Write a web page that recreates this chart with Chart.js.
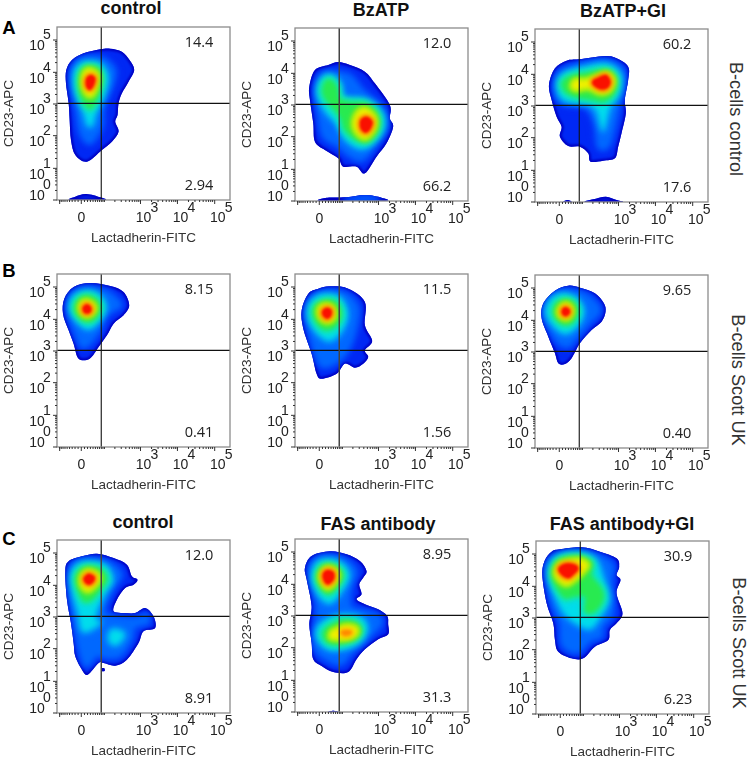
<!DOCTYPE html>
<html><head><meta charset="utf-8">
<script src="https://cdn.jsdelivr.net/npm/chart.js@4"></script>
<style>
html,body{margin:0;padding:0;background:#fff;overflow:hidden}
#page{position:relative;width:750px;height:758px;overflow:hidden;background:#fff}
canvas{position:absolute}
.t{position:absolute;white-space:nowrap;transform:translate(-50%,-50%);font-family:"Liberation Sans",Arial,sans-serif;line-height:1}
.h{font-weight:700;font-size:18px;color:#111}
.l{font-weight:700;font-size:18.5px;color:#000}
.s{font-size:18.2px;color:#333;transform:translate(-50%,-50%) rotate(90deg)}
</style></head><body><div id="page"></div>
<script>
// Axis values are display channels (0-520 on each axis).
const xTickMajor=[8,73,251,362,474];
const xTickLabels=["","0","10","10","10"];
const xTickExps=["","","3","4","5"];
const yTickMajor=[0,95,193,288,383,480];
const yTickExps=["0","1","2","3","4","5"];
const quadrantX=133, quadrantY=290;
const panelTitles=[["control",131,8],["BzATP",381,10],["BzATP+GI",623,11],["control",143,522],["FAS antibody",378,524],["FAS antibody+GI",622,524]];
const rowLetters=[["A",9,28],["B",9,271],["C",9,539]];
const rowLabels=[["B-cells control",736,119],["B-cells Scott UK",738,380],["B-cells Scott UK",739,643]];
const upperStats=["14.4","12.0","60.2","8.15","11.5","9.65","12.0","8.95","30.9"];
const lowerStats=["2.94","66.2","17.6","0.41","1.56","0.40","8.91","31.3","6.23"];
const frameLefts=[57,295,535,57,295,535,57,295,536];
const frameTops=[27,28,29,274,274,275,540,539,541];
const vLineColors=["#111","#444","#111","#111","#444","#111","#444","#444","#111"];
const levelColors=['#0028f4','#0068ff','#00dcec','#28ea50','#eef000','#ff8a00','#fa1000'];
const haloColors=['','#0044fa','#0098fa','#14e8a8','#98ee10','#ffc000','#ff7800'];
const levelBlur=[0.6,2.5,2.5,2.2,2,1.6,1.3];
const edgeColor='#0000c0';

// density contours: [level, [x,y, x,y, ...]]
const contoursA1=[
[0,[130,452,160,454,195,445,218,420,232,390,215,355,195,320,185,290,182,255,175,235,185,205,165,175,135,150,90,115,55,135,42,180,38,240,35,290,27,350,28,390,45,420,80,440]],
[0,[40,0,55,10,88,18,130,8,142,0]],
[1,[95,430,140,425,175,390,165,340,140,280,135,220,100,170,70,200,58,270,45,340,45,390,65,420]],
[2,[95,412,130,405,150,370,140,320,118,270,105,225,92,228,78,275,58,330,55,380,70,405]],
[3,[98,402,125,395,135,360,125,315,105,275,88,280,70,315,65,365,78,395]],
[4,[102,392,122,378,122,350,108,315,90,315,77,342,78,375,88,390]],
[6,[102,375,115,365,110,342,98,330,87,342,88,365]]];
const contoursA2=[
[0,[130,417,165,408,210,388,240,353,285,288,285,248,295,223,275,173,245,133,210,83,185,103,145,103,130,128,90,153,60,178,55,233,45,303,43,343,60,393,100,408]],
[0,[80,0,95,10,155,11,210,18,260,10,267,0]],
[1,[150,2,210,12,250,4]],
[1,[110,388,165,378,205,333,260,283,275,233,245,173,205,123,165,133,130,163,85,193,70,263,65,338,80,378]],
[2,[105,375,135,353,145,308,205,303,255,268,265,223,240,183,200,158,155,183,125,233,90,273,70,323,80,363]],
[3,[105,365,127,341,135,308,165,298,215,293,250,258,250,213,220,178,185,183,150,213,135,253,100,293,83,323,87,353]],
[4,[210,278,240,253,240,218,215,188,190,198,175,228,185,263]],
[6,[215,253,233,238,225,213,210,205,197,218,197,243]]];
const contoursA3=[
[0,[133,428,210,438,245,431,280,406,280,366,270,306,273,266,260,206,250,166,240,131,205,124,167,121,160,146,135,166,100,168,75,196,80,226,65,256,50,306,42,351,60,401,95,424]],
[0,[85,0,98,6,110,0]],
[0,[153,0,175,8,213,16,245,6,260,0]],
[1,[135,414,215,424,265,396,265,341,255,296,240,226,220,166,190,166,180,236,150,286,80,296,60,341,75,391]],
[2,[145,401,215,411,255,381,250,326,225,286,212,240,205,215,198,235,185,275,160,296,90,306,70,346,85,381]],
[3,[145,386,215,396,245,366,235,321,205,301,175,306,120,316,90,331,80,356,100,376]],
[4,[175,374,215,388,237,366,225,334,195,326,160,341,125,336,110,346,120,366,150,366]],
[6,[185,371,213,381,227,361,217,341,195,338,175,351,173,363]]];
const contoursB1=[
[0,[100,492,160,483,200,465,217,425,200,395,170,370,150,335,125,300,98,265,65,265,50,310,35,350,18,400,22,445,50,480]],
[1,[92,478,150,468,185,440,190,420,150,395,130,350,100,310,75,300,55,340,35,400,40,450,65,472]],
[2,[90,465,125,455,145,420,125,380,95,355,65,375,42,415,52,450]],
[3,[90,455,120,442,130,415,115,385,90,375,65,390,52,415,62,442]],
[4,[90,440,110,430,115,412,102,395,85,392,70,405,68,425,77,437]],
[6,[90,428,102,420,102,406,90,400,79,406,78,420]]];
const contoursB2=[
[0,[105,482,160,475,210,435,210,365,232,318,210,290,220,270,205,250,180,238,150,250,125,220,80,205,65,220,50,280,25,355,20,410,40,460,70,475]],
[1,[100,468,155,460,190,420,185,360,165,300,135,260,85,240,60,280,40,360,35,410,55,450]],
[2,[95,455,135,445,155,400,140,350,105,320,70,340,43,385,45,425,65,448]],
[3,[97,442,130,430,140,395,125,365,95,350,70,365,55,395,60,425]],
[4,[95,428,115,420,121,395,110,378,90,375,73,390,70,412,80,425]],
[6,[97,418,110,410,108,392,95,385,83,395,83,410]]];
const contoursB3=[
[0,[100,487,135,481,180,464,207,434,212,409,200,379,170,354,135,314,110,269,90,252,70,254,60,284,40,334,20,389,25,434,60,472]],
[1,[95,474,150,464,190,429,193,404,165,374,130,334,100,304,70,314,45,354,30,399,40,439,65,466]],
[2,[93,459,127,444,145,409,127,369,93,344,60,364,35,404,45,439,67,456]],
[3,[93,446,120,434,128,407,115,379,92,369,67,382,55,407,63,434]],
[4,[93,434,110,424,113,406,103,389,90,386,75,394,69,409,77,426]],
[6,[93,422,103,416,105,406,95,396,85,398,80,407,83,418]]];
const contoursC1=[
[0,[120,478,170,465,210,445,225,410,242,400,230,385,205,375,180,340,170,305,205,300,235,300,265,315,290,290,295,255,260,245,245,210,210,160,175,142,140,150,125,150,92,115,75,130,55,170,50,210,42,270,30,340,25,425,35,455,75,470]],
[0,[133,134,142,134,143,126,134,126]],
[1,[95,462,160,450,195,415,170,375,145,320,155,295,230,285,270,295,275,270,235,255,225,220,190,170,150,165,120,170,92,140,75,160,60,220,50,290,40,360,40,430,60,455]],
[2,[95,450,145,440,165,400,145,365,120,310,115,280,130,270,80,245,65,300,52,350,45,410,60,440]],
[2,[170,250,200,240,195,220,175,205,158,215,158,238]],
[3,[95,440,135,430,150,400,130,370,105,340,80,335,62,370,55,405,68,430]],
[4,[95,428,122,418,128,400,112,378,92,365,75,378,70,402,78,420]],
[6,[95,418,112,410,112,397,98,385,85,390,80,405]]];
const contoursC2=[
[0,[105,482,155,473,195,453,215,423,205,403,193,383,200,353,185,338,210,323,250,308,277,288,280,263,280,233,250,218,210,188,185,158,160,120,115,120,80,138,55,158,50,208,43,263,50,318,35,398,30,433,50,468]],
[0,[100,0,115,4,130,0]],
[1,[100,468,150,458,185,423,170,378,165,338,175,313,245,293,260,263,215,218,175,183,140,143,90,158,60,188,60,238,65,318,50,398,45,433,65,460]],
[2,[100,455,140,443,160,408,135,358,105,328,75,348,55,398,65,443]],
[2,[135,288,195,283,215,253,195,213,155,193,105,188,70,218,70,253,100,278]],
[3,[100,443,130,433,145,408,125,373,100,353,77,373,65,403,75,433]],
[3,[145,276,185,268,200,243,180,218,135,203,100,206,83,233,100,258]],
[4,[100,435,123,426,130,406,115,380,97,370,80,388,75,410,85,428]],
[4,[155,260,185,253,185,233,160,220,125,218,105,223,110,243,133,253]],
[6,[100,426,117,418,117,398,102,383,90,388,83,406,87,420]],
[5,[155,246,170,243,168,233,150,228,138,236,140,243]]];
const contoursC3=[
[0,[72,494,137,500,192,487,242,467,250,442,242,417,254,402,242,362,260,302,242,272,222,252,217,222,177,202,142,167,107,167,67,187,57,222,52,272,32,332,19,417,27,462,47,487]],
[1,[77,482,137,487,192,474,232,447,227,392,232,302,202,262,197,232,162,217,132,187,102,187,77,212,72,272,47,332,32,417,37,457]],
[2,[82,474,142,477,182,457,202,402,217,342,192,292,162,257,122,272,82,307,57,362,42,417,52,457]],
[3,[87,470,142,470,170,452,167,417,197,377,202,342,177,307,147,307,147,352,112,352,87,347,62,377,47,417,57,452]],
[4,[92,460,132,464,157,447,137,420,117,402,92,387,67,402,57,427,70,452]],
[6,[97,452,120,447,127,434,112,417,97,407,77,417,67,434,77,447]]];
const allContours=[contoursA1,contoursA2,contoursA3,contoursB1,contoursB2,contoursB3,contoursC1,contoursC2,contoursC3];

// minor axis ticks
const biex=v=>73+48.2*Math.asinh(v/50);
const xTickMinor=[];
[10,100,1000,10000].forEach(d=>{for(let k=1;k<10;k++){const v=k*d;if(v>10&&d===10&&k===1)continue;
  xTickMinor.push(biex(v));if(v<=90)xTickMinor.push(biex(-v));}});
const yTickMinor=[];
yTickMajor.slice(0,5).forEach((b,i)=>{for(let k=2;k<10;k++)yTickMinor.push(b+(yTickMajor[i+1]-b)*Math.log10(k));});

function smooth(ctx,p){const n=p.length;ctx.moveTo(p[0].x,p[0].y);
  for(let i=0;i<n;i++){const a=p[(i-1+n)%n],b=p[i],c=p[(i+1)%n],d=p[(i+2)%n];
    ctx.bezierCurveTo(b.x+(c.x-a.x)/6,b.y+(c.y-a.y)/6,c.x-(d.x-b.x)/6,c.y-(d.y-b.y)/6,c.x,c.y);}
  ctx.closePath();}

const densityPlugin={id:'density',beforeDatasetsDraw(chart){
  const ctx=chart.ctx,a=chart.chartArea;ctx.save();
  ctx.beginPath();ctx.rect(a.left,a.top,a.right-a.left,a.bottom-a.top);ctx.clip();
  const sets=chart.data.datasets.map((d,i)=>({d,meta:chart.getDatasetMeta(i)})).filter(o=>o.d.level!==undefined);
  ctx.filter='blur(0.5px)';ctx.fillStyle=levelColors[0];
  const clip=new Path2D();
  sets.filter(o=>o.d.level===0).forEach(o=>{smooth(clip,o.meta.data.map(e=>({x:e.x,y:e.y})));});
  ctx.fill(clip);
  ctx.clip(clip);
  ctx.lineJoin='round';
  ctx.filter='blur(1.2px)';ctx.strokeStyle=edgeColor;ctx.lineWidth=4;ctx.stroke(clip);
  sets.filter(o=>o.d.level>0).sort((u,v)=>u.d.level-v.d.level).forEach(o=>{
    const L=o.d.level,pts=o.meta.data.map(e=>({x:e.x,y:e.y}));
    ctx.filter='blur('+(levelBlur[L]+0.8)+'px)';
    ctx.fillStyle=haloColors[L];ctx.strokeStyle=haloColors[L];ctx.lineWidth=L>=5?4:6;
    ctx.beginPath();smooth(ctx,pts);ctx.fill();ctx.stroke();
    ctx.filter='blur('+levelBlur[L]+'px)';
    ctx.fillStyle=levelColors[L];
    ctx.beginPath();smooth(ctx,pts);ctx.fill();});
  ctx.restore();
}};
const axisPlugin={id:'axisDecor',afterDraw(chart){
  const ctx=chart.ctx,a=chart.chartArea,xs=chart.scales.x,ys=chart.scales.y,pi=chart.options.plugins.axisDecor;
  ctx.save();
  ctx.strokeStyle='#8c8c8c';ctx.lineWidth=1.3;ctx.strokeRect(a.left,a.top,a.right-a.left,a.bottom-a.top);
  ctx.strokeStyle='#333';ctx.lineWidth=1;
  const tick=(x1,y1,x2,y2)=>{ctx.beginPath();ctx.moveTo(x1,y1);ctx.lineTo(x2,y2);ctx.stroke();};
  xTickMinor.forEach(v=>{const x=xs.getPixelForValue(v);if(x>=a.left&&x<=a.right)tick(x,a.bottom,x,a.bottom+2);});
  xTickMajor.forEach(v=>{const x=xs.getPixelForValue(v);tick(x,a.bottom,x,a.bottom+4);});
  yTickMinor.forEach(v=>{const y=ys.getPixelForValue(v);tick(a.left,y,a.left-2,y);});
  yTickMajor.forEach(v=>{const y=ys.getPixelForValue(v);tick(a.left,y,a.left-4,y);});
  ctx.fillStyle='#222';ctx.font='14px "Liberation Sans",Arial,sans-serif';ctx.textAlign='center';ctx.textBaseline='middle';
  xTickMajor.forEach((v,i)=>{const x=xs.getPixelForValue(v);
    if(xTickLabels[i]==='0'){ctx.fillText('0',x,a.bottom+18);}
    else if(xTickLabels[i]){ctx.fillText(xTickLabels[i],x+3,a.bottom+18);ctx.fillText(xTickExps[i],x+14,a.bottom+8);}});
  yTickMajor.forEach((v,i)=>{const y=ys.getPixelForValue(v),dy=i===0?-10:0;
    ctx.fillText('10',a.left-20,y+6.5+dy);ctx.fillText(yTickExps[i],a.left-10,y-4.5+dy);});
  ctx.font='14.5px "Open Sans",sans-serif';
  ctx.fillText(pi.upper,xs.getPixelForValue(427),ys.getPixelForValue(470));
  ctx.fillText(pi.lower,xs.getPixelForValue(427),ys.getPixelForValue(43));
  ctx.restore();
}};
Chart.register(densityPlugin,axisPlugin);

const page=document.getElementById('page');
function addText(cls,row){const d=document.createElement('div');d.className='t '+cls;d.textContent=row[0];d.style.left=row[1]+'px';d.style.top=row[2]+'px';page.appendChild(d);}
panelTitles.forEach(r=>addText('h',r));rowLetters.forEach(r=>addText('l',r));rowLabels.forEach(r=>addText('s',r));

allContours.forEach((contours,i)=>{
  const c=document.createElement('canvas');c.width=236;c.height=221;
  c.style.left=(frameLefts[i]-57)+'px';c.style.top=(frameTops[i]-2)+'px';c.style.width='236px';c.style.height='221px';
  page.appendChild(c);
  const datasets=contours.map(([level,flat])=>{const data=[];for(let k=0;k<flat.length;k+=2)data.push({x:flat[k],y:flat[k+1]});
    return {level,data,showLine:false,pointRadius:0,pointHoverRadius:0};});
  datasets.push({data:[{x:quadrantX,y:0},{x:quadrantX,y:520}],showLine:true,pointRadius:0,borderColor:vLineColors[i],borderWidth:vLineColors[i]==='#111'?1.1:1.5});
  datasets.push({data:[{x:0,y:quadrantY},{x:520,y:quadrantY}],showLine:true,pointRadius:0,borderColor:'#111',borderWidth:1.1});
  new Chart(c,{type:'scatter',data:{datasets},options:{
    responsive:false,animation:false,events:[],
    layout:{padding:{top:2,right:6,left:0,bottom:0}},
    plugins:{legend:{display:false},tooltip:{enabled:false},title:{display:false},axisDecor:{upper:upperStats[i],lower:lowerStats[i]}},
    scales:{
      x:{type:'linear',min:0,max:520,grid:{display:false},border:{display:false},
        afterBuildTicks:s=>{s.ticks=xTickMajor.map(value=>({value}));},
        ticks:{display:false},
        afterFit:s=>{s.height=46;},
        title:{display:true,text:'Lactadherin-FITC',color:'#333',font:{family:'"Liberation Sans",Arial,sans-serif',size:13.5},padding:0}},
      y:{type:'linear',min:0,max:519,grid:{display:false},border:{display:false},
        afterBuildTicks:s=>{s.ticks=yTickMajor.map(value=>({value}));},
        ticks:{display:false},
        afterFit:s=>{s.width=57;},
        title:{display:true,text:'CD23-APC',color:'#333',font:{family:'"Liberation Sans",Arial,sans-serif',size:13.5},padding:{top:1,bottom:0}}}
    }}});
});
</script></body></html>
